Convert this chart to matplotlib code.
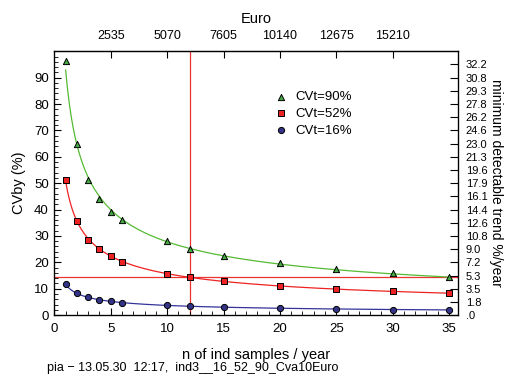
import numpy as np
import matplotlib.pyplot as plt

plt.rcParams['font.family'] = ['Liberation Sans', 'DejaVu Sans']

# samples per year and CVby (%) for three levels of CVt
n_samples = np.array([1, 2, 3, 4, 5, 6, 10, 12, 15, 20, 25, 30, 35])
cv_90 = np.array([96.2, 65.0, 51.3, 44.1, 38.9, 35.9, 27.9, 25.2, 22.5, 19.6, 17.3, 15.8, 14.4])
cv_52 = np.array([51.3, 35.6, 28.6, 25.2, 22.3, 20.3, 15.4, 14.3, 12.9, 11.1, 10.0, 9.0, 8.2])
cv_16 = np.array([11.8, 8.2, 6.7, 5.7, 5.2, 4.7, 3.7, 3.3, 2.9, 2.7, 2.4, 2.1, 1.9])

euro_per_sample = 507
euro_ticks = [2535, 5070, 7605, 10140, 12675, 15210]
trend_labels = ['.0', '1.8', '3.5', '5.3', '7.2', '9.0', '10.8', '12.6', '14.4', '16.1',
                '17.9', '19.6', '21.3', '23.0', '24.6', '26.2', '27.8', '29.3', '30.8', '32.2']
n_chosen = 12
cv_limit = 14.3

fig = plt.figure(figsize=(5.08, 3.76), dpi=100)
ax = fig.add_axes([0.107, 0.162, 0.7936, 0.7016])

series = [
    (cv_90, '#55bb33', '^', '#44aa44', 20, 'CVt=90%'),
    (cv_52, '#ee2222', 's', '#ee2222', 17, 'CVt=52%'),
    (cv_16, '#333399', 'o', '#333388', 20, 'CVt=16%'),
]
xs = np.linspace(1, 35, 200)
handles = []
for vals, lc, mk, fc, sz, lab in series:
    # power-law fit through the points
    p, c = np.polyfit(np.log(n_samples), np.log(vals), 1)
    ax.plot(xs, np.exp(c) * xs ** p, color=lc, lw=0.9, zorder=2)
    h = ax.scatter(n_samples, vals, marker=mk, s=sz, c=fc,
                   edgecolors='black', linewidths=0.7, zorder=3, label=lab)
    handles.append(h)

ax.axvline(n_chosen, color='#ee3333', lw=0.9, zorder=1)
ax.axhline(cv_limit, color='#ee3333', lw=0.9, zorder=1)

ax.set_xlim(0, 35.75)
ax.set_ylim(0, 100)
ax.set_xticks(range(0, 36, 5))
ax.set_xticks(range(0, 36), minor=True)
ax.set_yticks(range(0, 100, 10))
ax.set_yticks(range(0, 100, 2), minor=True)
ax.tick_params(which='both', direction='in', top=False, right=False, labelsize=9.5)
ax.tick_params(axis='x', pad=6)
ax.tick_params(axis='y', pad=4)
ax.tick_params(which='major', length=5)
ax.tick_params(which='minor', length=3)
for s in ax.spines.values():
    s.set_linewidth(0.9)

ax.set_xlabel('n of ind samples / year', fontsize=10.5, labelpad=9)
ax.set_ylabel('CVby (%)', fontsize=10.5, labelpad=6)

# top axis: cost in Euro
top = ax.secondary_xaxis('top', functions=(lambda n: n * euro_per_sample,
                                            lambda e: e / euro_per_sample))
top.set_xticks(euro_ticks)
top.tick_params(direction='in', length=5, labelsize=9, pad=7)
top.set_xlabel('Euro', fontsize=10.5, labelpad=5)

# right axis: minimum detectable trend
right = ax.twinx()
right.set_ylim(0, 100)
right.set_yticks(range(0, 100, 5))
right.set_yticklabels(trend_labels)
right.tick_params(direction='in', length=6, labelsize=8, pad=6)
right.set_ylabel('minimum detectable trend %/year', fontsize=10, rotation=-90, labelpad=11)

ax.legend(handles=handles, loc='upper left', bbox_to_anchor=(0.53, 0.875), frameon=False,
          fontsize=9.5, handletextpad=0.6, labelspacing=0.35, borderpad=0, handlelength=1.0)

fig.text(0.093, 0.014, 'pia \u2212 13.05.30  12:17,  ind3__16_52_90_Cva10Euro', fontsize=9)

fig.savefig('out.png', dpi=100)
